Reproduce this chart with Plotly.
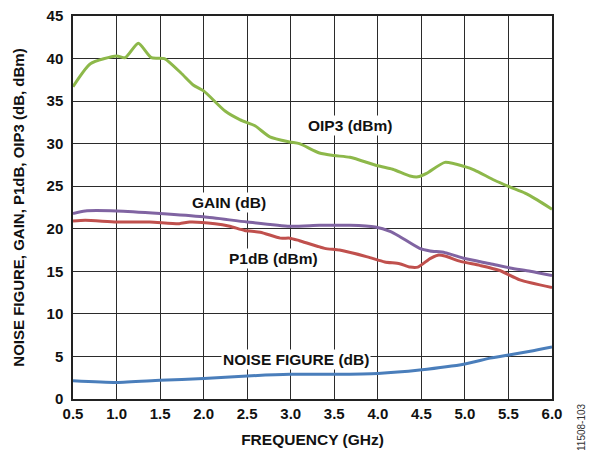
import plotly.graph_objects as go

oip3_f = [0.5, 0.7, 1.0, 1.1, 1.25, 1.4, 1.55, 1.74, 1.88, 2.0, 2.25, 2.42, 2.59, 2.76, 2.99, 3.1,
          3.33, 3.5, 3.68, 4.0, 4.17, 4.37, 4.46, 4.56, 4.77, 5.0, 5.11, 5.34, 5.52, 5.69, 5.83, 6.0]
oip3_v = [36.7, 39.4, 40.3, 40.1, 41.8, 40.1, 40.0, 38.3, 36.9, 36.2, 33.8, 32.8, 32.1, 30.8, 30.2, 30.0,
          28.9, 28.6, 28.4, 27.4, 27.0, 26.2, 26.1, 26.5, 27.8, 27.3, 26.9, 25.7, 24.9, 24.2, 23.4, 22.3]

gain_f = [0.5, 0.64, 1.0, 1.5, 2.0, 2.5, 2.99, 3.33, 3.68, 3.97, 4.14, 4.25, 4.48, 4.6, 4.77, 5.0, 5.29, 5.52, 5.75, 6.0]
gain_v = [21.8, 22.1, 22.1, 21.8, 21.4, 20.8, 20.3, 20.4, 20.4, 20.2, 19.7, 19.1, 17.7, 17.4, 17.2, 16.5, 15.9, 15.4, 15.0, 14.5]

p1db_f = [0.5, 0.64, 1.0, 1.38, 1.72, 1.84, 2.13, 2.3, 2.47, 2.65, 2.88, 2.99, 3.1, 3.39, 3.56, 3.88, 4.08,
          4.25, 4.37, 4.46, 4.6, 4.69, 4.77, 4.94, 5.17, 5.4, 5.63, 6.0]
p1db_v = [20.9, 21.0, 20.8, 20.8, 20.6, 20.8, 20.6, 20.3, 19.8, 19.6, 18.9, 18.9, 18.6, 17.7, 17.5, 16.7, 16.1,
          15.9, 15.5, 15.5, 16.5, 16.9, 16.8, 16.2, 15.7, 15.1, 14.0, 13.1]

nf_f = [0.5, 1.0, 1.5, 2.0, 2.5, 2.99, 3.5, 4.0, 4.48, 5.0, 5.29, 5.52, 5.75, 6.0]
nf_v = [2.15, 1.95, 2.2, 2.4, 2.7, 2.9, 2.9, 3.0, 3.4, 4.1, 4.8, 5.2, 5.6, 6.1]

x_ticks = [0.5, 1.0, 1.5, 2.0, 2.5, 3.0, 3.5, 4.0, 4.5, 5.0, 5.5, 6.0]
y_ticks = [0, 5, 10, 15, 20, 25, 30, 35, 40, 45]

# labels: (text, x, y)
labels = [("OIP3 (dBm)", 3.68, 32.1), ("GAIN (dB)", 2.29, 23.1),
          ("P1dB (dBm)", 2.8, 16.5), ("NOISE FIGURE (dB)", 3.06, 4.7)]

FONT = "Liberation Sans, Arial, sans-serif"

fig = go.Figure()
series = [(nf_f, nf_v, "#4a7ebb"), (p1db_f, p1db_v, "#c0504d"),
          (gain_f, gain_v, "#8064a2"), (oip3_f, oip3_v, "#8db84a")]
for fx, fv, col in series:
    fig.add_trace(go.Scatter(x=fx, y=fv, mode="lines",
                             line=dict(color=col, width=3, shape="spline", smoothing=0.6),
                             showlegend=False, hoverinfo="skip"))

for txt, lx, ly in labels:
    fig.add_annotation(x=lx, y=ly, xref="x", yref="y", text="<b>%s</b>" % txt, showarrow=False,
                       bgcolor="white", borderpad=1,
                       font=dict(family=FONT, size=15.5, color="#111"))

fig.add_annotation(x=1.0, y=0.0, xref="paper", yref="paper", xanchor="center", yanchor="middle",
                   xshift=29, yshift=-28,
                   text="11508-103", textangle=-90, showarrow=False,
                   font=dict(family=FONT, size=10, color="#333"))

axis_common = dict(showgrid=True, gridcolor="#2b2b2b", gridwidth=1, showline=True, linecolor="#222",
                   linewidth=1.5, mirror=True, zeroline=False, ticks="", automargin=False,
                   ticklabeloverflow="allow",
                   tickfont=dict(family=FONT, size=15, color="#111"))

fig.update_layout(
    template="none",
    width=579, height=442, margin=dict(l=65, r=35, t=8, b=51),
    paper_bgcolor="white", plot_bgcolor="white",
    xaxis=dict(range=[0.5, 6.0], tickvals=x_ticks, ticktext=["<b>%.1f</b>" % v for v in x_ticks],
               title=dict(text="<b>FREQUENCY (GHz)</b>", font=dict(family=FONT, size=15.5, color="#111"), standoff=13),
               **axis_common),
    yaxis=dict(range=[0, 45], tickvals=y_ticks, ticktext=["<b>%d</b>" % v for v in y_ticks],
               ticklabelstandoff=5,
               title=dict(text="<b>NOISE FIGURE, GAIN, P1dB, OIP3 (dB, dBm)</b>",
                          font=dict(family=FONT, size=15, color="#111"), standoff=18),
               **axis_common),
)

fig.write_html("out.html")
